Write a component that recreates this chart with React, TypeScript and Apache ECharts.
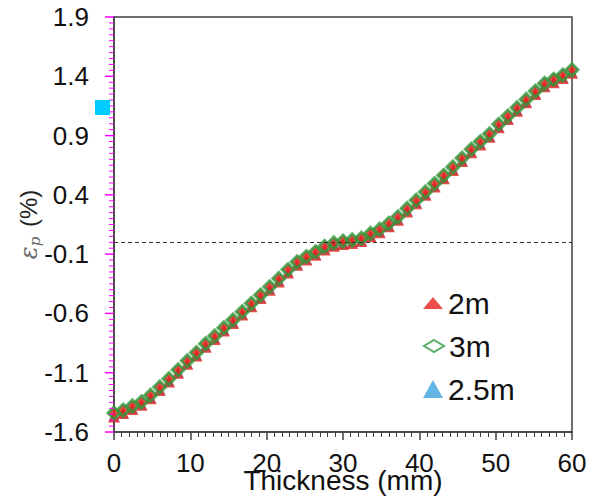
import React, { useEffect, useRef } from "react";
import * as echarts from "echarts";

const thickness = [
  0, 1.2, 2.4, 3.6, 4.8, 6, 7.2, 8.4, 9.6, 10.8, 12, 13.2, 14.4, 15.6, 16.8, 18, 19.2, 20.4, 21.6, 22.8,
  24, 25.2, 26.4, 27.6, 28.8, 30, 31.2, 32.4, 33.6, 34.8, 36, 37.2, 38.4, 39.6, 40.8, 42, 43.2, 44.4,
  45.6, 46.8, 48, 49.2, 50.4, 51.6, 52.8, 54, 55.2, 56.4, 57.6, 58.8, 60,
];

const strain2m = [
  -1.47, -1.44, -1.405, -1.37, -1.315, -1.245, -1.175, -1.1, -1.025, -0.955, -0.88, -0.815, -0.745,
  -0.68, -0.61, -0.54, -0.47, -0.4, -0.33, -0.255, -0.19, -0.145, -0.105, -0.06, -0.03, -0.015, -0.005,
  0.01, 0.05, 0.085, 0.135, 0.19, 0.26, 0.33, 0.4, 0.47, 0.54, 0.61, 0.685, 0.76, 0.825, 0.89, 0.97,
  1.04, 1.11, 1.18, 1.25, 1.315, 1.35, 1.385, 1.43,
];

const strain3m = [
  -1.44, -1.415, -1.38, -1.345, -1.29, -1.22, -1.15, -1.075, -1.0, -0.93, -0.855, -0.79, -0.72, -0.655,
  -0.585, -0.515, -0.445, -0.375, -0.305, -0.23, -0.165, -0.12, -0.08, -0.035, -0.005, 0.01, 0.02,
  0.035, 0.075, 0.11, 0.16, 0.215, 0.285, 0.355, 0.425, 0.495, 0.565, 0.635, 0.71, 0.785, 0.85, 0.915,
  0.995, 1.065, 1.135, 1.205, 1.275, 1.34, 1.375, 1.41, 1.455,
];

const strain25m = [
  -1.465, -1.44, -1.4, -1.365, -1.31, -1.24, -1.17, -1.095, -1.02, -0.95, -0.875, -0.81, -0.74, -0.675,
  -0.605, -0.535, -0.465, -0.395, -0.325, -0.25, -0.185, -0.14, -0.1, -0.055, -0.025, -0.01, 0, 0.015,
  0.055, 0.09, 0.14, 0.195, 0.265, 0.335, 0.405, 0.475, 0.545, 0.615, 0.69, 0.765, 0.83, 0.895, 0.975,
  1.045, 1.115, 1.185, 1.255, 1.32, 1.355, 1.39, 1.435,
];

const yTickLabels = [-1.6, -1.1, -0.6, -0.1, 0.4, 0.9, 1.4, 1.9];
const xTickLabels = [0, 10, 20, 30, 40, 50, 60];

const FONT = "'Liberation Sans', Arial, sans-serif";
const RED = "#e8221d";
const GREEN = "#2e9a3c";
const BLUE = "#3ba3dd";
const AXIS = "#404040";
const Y_MIN = yTickLabels[0];
const Y_MAX = yTickLabels[yTickLabels.length - 1];
const Y_STEP = 0.5;
const X_MIN = xTickLabels[0];
const X_MAX = xTickLabels[xTickLabels.length - 1];
const X_STEP = 10;
const MINOR_DIV = 10;

function pairs(ys: number[]) {
  return thickness.map((x, i) => [x, ys[i]]);
}

export default function App() {
  const ref = useRef<HTMLDivElement>(null);
  useEffect(() => {
    if (!ref.current) return;
    const chart = echarts.init(ref.current, undefined, { renderer: "svg" });
    const legendBase = {
      orient: "vertical",
      left: 423,
      padding: 0,
      itemWidth: 20,
      symbolKeepAspect: true,
      selectedMode: false,
      textStyle: { fontFamily: FONT, fontSize: 30, color: "#111" },
    };
    chart.setOption({
      animation: false,
      backgroundColor: "#fff",
      grid: {
        left: 114,
        top: 17,
        right: 31,
        bottom: 69,
        containLabel: false,
        outerBoundsMode: "none",
        show: true,
        borderColor: AXIS,
        borderWidth: 1.5,
        backgroundColor: "transparent",
      },
      legend: [
        { ...legendBase, top: 288, itemHeight: 12, data: [{ name: "2m", icon: "triangle" }] },
        {
          ...legendBase,
          top: 331,
          itemHeight: 12,
          data: [
            {
              name: "3m",
              icon: "diamond",
              itemStyle: { color: "#fff", borderColor: GREEN, borderWidth: 2 },
            },
          ],
        },
        { ...legendBase, top: 374, itemHeight: 18, data: [{ name: "2.5m", icon: "triangle" }] },
      ],
      xAxis: {
        type: "value",
        min: X_MIN,
        max: X_MAX,
        interval: X_STEP,
        name: "Thickness (mm)",
        nameLocation: "middle",
        nameGap: 34,
        nameMoveOverlap: false,
        nameTextStyle: { fontFamily: FONT, fontSize: 28, color: "#111" },
        axisLine: { show: true, onZero: false, lineStyle: { color: AXIS, width: 1.5 } },
        axisTick: { show: true, length: 8, lineStyle: { color: AXIS, width: 1.5 } },
        minorTick: { show: true, splitNumber: 10, length: 5, lineStyle: { color: AXIS, width: 1 } },
        axisLabel: {
          fontFamily: FONT,
          fontSize: 26,
          color: "#111",
          margin: 18,
        },
        splitLine: { show: false },
        minorSplitLine: { show: false },
      },
      yAxis: [
        {
          type: "value",
          min: Y_MIN,
          max: Y_MAX,
          position: "left",
          axisLine: { show: false, onZero: false },
          axisTick: { show: false },
          axisLabel: { show: false },
          splitLine: { show: false },
        },
        {
          type: "value",
          min: 0,
          max: Y_MAX - Y_MIN,
          interval: Y_STEP,
          position: "left",
          name: "{e|ε}{p|p} (%)",
          nameLocation: "middle",
          nameRotate: 90,
          nameGap: 72,
          nameMoveOverlap: false,
          nameTextStyle: {
            fontFamily: FONT,
            fontSize: 24,
            color: "#222",
            rich: {
              e: { fontFamily: "'DejaVu Serif', serif", fontStyle: "italic", fontSize: 24, color: "#666" },
              p: {
                fontFamily: "'DejaVu Serif', serif",
                fontStyle: "italic",
                fontSize: 15,
                color: "#666",
                padding: [12, 3, 0, 0],
              },
            },
          },
          axisLine: { show: true, onZero: false, lineStyle: { color: AXIS, width: 1.5 } },
          axisTick: { show: false },
          axisLabel: {
            formatter: (v: number) => (v + Y_MIN).toFixed(1),
            fontFamily: FONT,
            fontSize: 26,
            color: "#111",
            margin: 25,
          },
          splitLine: { show: false },
        },
      ],
      series: [
        {
          name: "2.5m",
          type: "scatter",
          yAxisIndex: 0,
          symbol: "triangle",
          symbolSize: 11,
          itemStyle: { color: BLUE },
          data: pairs(strain25m),
          z: 2,
        },
        {
          name: "2m",
          type: "scatter",
          yAxisIndex: 0,
          symbol: "triangle",
          symbolSize: 12,
          itemStyle: { color: RED },
          data: pairs(strain2m),
          z: 3,
        },
        {
          name: "3m",
          type: "scatter",
          yAxisIndex: 0,
          symbol: "diamond",
          symbolSize: 12,
          itemStyle: { color: RED, borderColor: GREEN, borderWidth: 3 },
          data: pairs(strain3m),
          z: 4,
          markLine: {
            silent: true,
            symbol: ["none", "none"],
            label: { show: false },
            lineStyle: { type: [4, 3], color: "#333", width: 1 },
            data: [{ yAxis: 0 }],
          },
        },
      ],
    });

    // diagnostic + y-axis tick marks via the chart's scale
    const tickLines: any[] = [];
    const yCount = Math.round((Y_MAX - Y_MIN) / Y_STEP) * MINOR_DIV;
    for (let i = 0; i <= yCount; i++) {
      const v = Y_MIN + (i * Y_STEP) / MINOR_DIV;
      const p = chart.convertToPixel({ xAxisIndex: 0, yAxisIndex: 0 }, [X_MIN, v]) as number[];
      if (!p) continue;
      const major = i % MINOR_DIV === 0;
      const len = major ? 9 : 5;
      tickLines.push({
        type: "rect",
        silent: true,
        z: 100,
        shape: { x: p[0] - len, y: p[1] - (major ? 0.75 : 0.5), width: len, height: major ? 1.5 : 1 },
        style: { fill: "#ff00ff" },
      });
    }
    tickLines.push({
      type: "rect",
      silent: true,
      z: 100,
      shape: { x: 95, y: 100, width: 15, height: 15 },
      style: { fill: "#00ccff" },
    });
    chart.setOption({ graphic: { elements: tickLines } });

    return () => chart.dispose();
  }, []);
  return (
    <div
      ref={ref}
      style={{ position: "absolute", left: 0, top: 0, width: 603, height: 501, background: "#fff" }}
    />
  );
}
